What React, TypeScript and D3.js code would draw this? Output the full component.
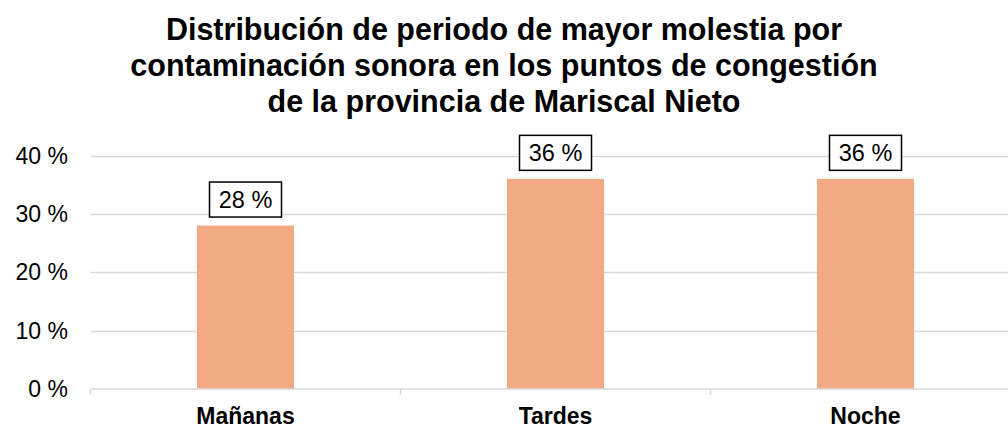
import React, { useRef, useEffect } from "react";
import * as d3 from "d3";

const categories = ["Mañanas", "Tardes", "Noche"];
const values = [28, 36, 36];
const yTicks = [0, 10, 20, 30, 40];
const titleLines = [
  "Distribución de periodo de mayor molestia por",
  "contaminación sonora en los puntos de congestión",
  "de la provincia de Mariscal Nieto",
];

const App: React.FC = () => {
  const ref = useRef<SVGSVGElement | null>(null);

  useEffect(() => {
    if (!ref.current) return;
    const svg = d3.select(ref.current);
    svg.selectAll("*").remove();

    const width = 1008;
    const height = 429;
    const margin = { top: 155.5, right: -12.5, bottom: 40, left: 90.5 };
    const font = "'Liberation Sans', Arial, sans-serif";

    svg.attr("width", width).attr("height", height).style("display", "block");
    svg.append("rect").attr("width", width).attr("height", height).attr("fill", "#fff");

    const x = d3
      .scaleBand()
      .domain(categories)
      .range([margin.left, width - margin.right])
      .paddingInner(0.687)
      .paddingOuter(0.3435);

    const y = d3
      .scaleLinear()
      .domain([0, 40])
      .range([389, margin.top]);

    // gridlines
    svg
      .append("g")
      .selectAll("line")
      .data(yTicks.filter((t) => t > 0))
      .join("line")
      .attr("x1", margin.left)
      .attr("x2", width)
      .attr("y1", (d) => Math.round(y(d)) + 0.5)
      .attr("y2", (d) => Math.round(y(d)) + 0.5)
      .attr("stroke", "#d9d9d9")
      .attr("stroke-width", 1.5);

    // y labels
    svg
      .append("g")
      .selectAll("text")
      .data(yTicks)
      .join("text")
      .attr("x", 68)
      .attr("y", (d) => y(d))
      .attr("dy", "0.35em")
      .attr("text-anchor", "end")
      .attr("font-family", font)
      .attr("font-size", 23)
      .attr("fill", "#000")
      .text((d) => `${d} %`);

    // bars
    svg
      .append("g")
      .selectAll("rect")
      .data(values)
      .join("rect")
      .attr("x", (d, i) => x(categories[i]) || 0)
      .attr("y", (d) => y(d))
      .attr("width", x.bandwidth())
      .attr("height", (d) => y(0) - y(d))
      .attr("fill", "#F2AA84");

    // baseline + ticks
    const axis = svg.append("g").attr("stroke", "#d9d9d9").attr("stroke-width", 1.5);
    axis
      .append("line")
      .attr("x1", margin.left)
      .attr("x2", width)
      .attr("y1", y(0))
      .attr("y2", y(0));
    const step = x.step();
    axis
      .selectAll("line.tick")
      .data(d3.range(categories.length))
      .join("line")
      .attr("class", "tick")
      .attr("x1", (i) => margin.left + i * step)
      .attr("x2", (i) => margin.left + i * step)
      .attr("y1", y(0))
      .attr("y2", y(0) + 6);

    // category labels
    svg
      .append("g")
      .selectAll("text")
      .data(categories)
      .join("text")
      .attr("x", (d) => (x(d) || 0) + x.bandwidth() / 2)
      .attr("y", 424)
      .attr("text-anchor", "middle")
      .attr("font-family", font)
      .attr("font-size", 23)
      .attr("font-weight", "bold")
      .text((d) => d);

    // value labels with boxes
    const lab = svg
      .append("g")
      .selectAll("g")
      .data(values)
      .join("g")
      .attr(
        "transform",
        (d, i) => `translate(${(x(categories[i]) || 0) + x.bandwidth() / 2},${y(d) - 26})`
      );
    lab
      .append("rect")
      .attr("x", -36)
      .attr("y", -17.5)
      .attr("width", 72)
      .attr("height", 35)
      .attr("fill", "#fff")
      .attr("stroke", "#000")
      .attr("stroke-width", 1.5);
    lab
      .append("text")
      .attr("dy", "0.35em")
      .attr("text-anchor", "middle")
      .attr("font-family", font)
      .attr("font-size", 23.5)
      .text((d) => `${d} %`);

    // title
    svg
      .append("g")
      .selectAll("text")
      .data(titleLines)
      .join("text")
      .attr("x", 504)
      .attr("y", (d, i) => 40 + i * 35.8)
      .attr("text-anchor", "middle")
      .attr("font-family", font)
      .attr("font-size", 30.5)
      .attr("font-weight", "bold")
      .text((d) => d);
  }, []);

  return (
    <div style={{ position: "absolute", left: 0, top: 0 }}>
      <svg ref={ref} />
    </div>
  );
};

export default App;
